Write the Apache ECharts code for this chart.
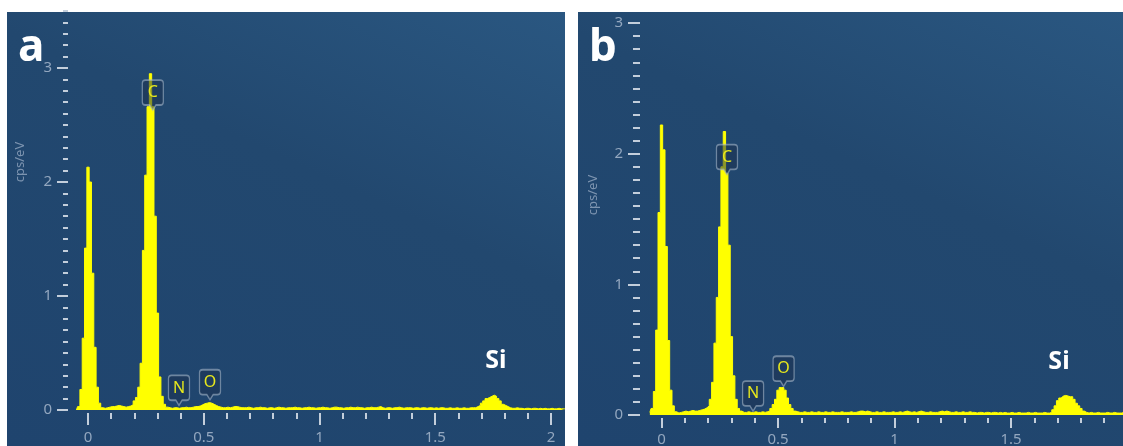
<!DOCTYPE html>
<html>
<head>
<meta charset="utf-8">
<script src="https://cdn.jsdelivr.net/npm/echarts@6/dist/echarts.min.js"></script>
<style>
html,body{margin:0;padding:0;background:#fff;}
#wrap{position:relative;width:1123px;height:446px;overflow:hidden;}
.panel{position:absolute;top:12px;bottom:0;background:linear-gradient(205deg,#2a5781 0%,#22486f 40%,#1f446e 100%);}
#pa{left:7px;width:558px;}
#pb{left:578px;width:545px;}
#chart{position:absolute;left:0;top:0;width:1123px;height:446px;}
</style>
</head>
<body>
<div id="wrap"><div class="panel" id="pa"></div><div class="panel" id="pb"></div><div id="chart"></div></div>
<script>
// EDS channel calibration (keV)
const channelStart = -0.05;
const channelWidth = 0.01;

// Panel a counts (cps/eV), channels from -0.05 keV to 2.06 keV
const countsA = [
  0, 0.03, 0.18, 0.63, 1.42, 2.13, 2.00, 1.20, 0.55, 0.20, 0.06, 0.02,
  0.015, 0.02, 0.025, 0.03, 0.03, 0.035, 0.04, 0.035, 0.03, 0.025, 0.03, 0.035, 0.045,
  0.08, 0.11, 0.20, 0.41, 1.40, 2.06, 2.66, 2.95, 2.66, 1.70, 0.85, 0.29, 0.12, 0.05, 0.025,
  0.02, 0.015, 0.02, 0.02, 0.015, 0.02, 0.02, 0.025, 0.02, 0.02, 0.025, 0.03,
  0.03, 0.035, 0.045, 0.055, 0.06, 0.065, 0.06, 0.05, 0.04, 0.03, 0.025,
  0.02, 0.02, 0.025, 0.02, 0.025, 0.03, 0.03, 0.025, 0.02, 0.02,
  0.02, 0.025, 0.02, 0.015, 0.02, 0.02, 0.025, 0.02, 0.02, 0.015,
  0.02, 0.02, 0.015, 0.02, 0.025, 0.02, 0.02, 0.015, 0.02, 0.02,
  0.02, 0.025, 0.02, 0.02, 0.015, 0.02, 0.02, 0.025, 0.02, 0.02,
  0.015, 0.02, 0.02, 0.025, 0.02, 0.02, 0.015, 0.02, 0.025, 0.025,
  0.02, 0.02, 0.015, 0.02, 0.02, 0.025, 0.02, 0.02, 0.025, 0.02,
  0.02, 0.015, 0.02, 0.02, 0.025, 0.02, 0.02, 0.025, 0.03, 0.02,
  0.015, 0.02, 0.02, 0.015, 0.02, 0.02, 0.025, 0.02, 0.015, 0.02,
  0.02, 0.02, 0.015, 0.02, 0.02, 0.015, 0.02, 0.02, 0.015, 0.02,
  0.02, 0.015, 0.02, 0.015, 0.02, 0.02, 0.015, 0.015, 0.02, 0.015,
  0.015, 0.02, 0.015, 0.015, 0.02, 0.015, 0.015, 0.02, 0.02,
  0.02, 0.03, 0.04, 0.06, 0.08, 0.10, 0.11, 0.12, 0.13, 0.12, 0.10, 0.08, 0.05, 0.04, 0.03, 0.02,
  0.015, 0.015, 0.02, 0.015, 0.015, 0.01, 0.015, 0.015, 0.01, 0.015, 0.015, 0.01,
  0.015, 0.01, 0.015, 0.01, 0.01, 0.015, 0.01, 0.01, 0.015, 0.01, 0.01, 0.01
];

// Panel b counts (cps/eV), channels from -0.05 keV to 1.99 keV
const countsB = [
  0.02, 0.05, 0.18, 0.65, 1.55, 2.22, 2.03, 1.29, 0.57, 0.19, 0.07, 0.025,
  0.015, 0.02, 0.025, 0.03, 0.025, 0.03, 0.035, 0.03, 0.03, 0.035, 0.04, 0.045, 0.055,
  0.07, 0.12, 0.25, 0.55, 0.90, 1.44, 1.90, 2.17, 1.85, 1.30, 0.60, 0.30, 0.12, 0.05, 0.03,
  0.02, 0.02, 0.025, 0.02, 0.02, 0.025, 0.02, 0.02, 0.025, 0.02, 0.025,
  0.03, 0.05, 0.08, 0.12, 0.19, 0.21, 0.21, 0.19, 0.13, 0.08, 0.05, 0.03,
  0.025, 0.02, 0.02, 0.025, 0.02, 0.02, 0.025, 0.02, 0.02, 0.025,
  0.02, 0.02, 0.025, 0.02, 0.02, 0.025, 0.02, 0.02, 0.02, 0.025,
  0.02, 0.02, 0.02, 0.025, 0.02, 0.02, 0.025, 0.03, 0.03, 0.025,
  0.03, 0.025, 0.02, 0.02, 0.025, 0.02, 0.02, 0.025, 0.02, 0.02,
  0.02, 0.025, 0.02, 0.02, 0.025, 0.02, 0.025, 0.03, 0.025, 0.02,
  0.025, 0.02, 0.025, 0.03, 0.025, 0.02, 0.02, 0.025, 0.02, 0.02,
  0.02, 0.025, 0.03, 0.025, 0.03, 0.025, 0.02, 0.02, 0.025, 0.02,
  0.02, 0.025, 0.02, 0.02, 0.025, 0.02, 0.02, 0.015, 0.02, 0.02,
  0.015, 0.02, 0.02, 0.015, 0.02, 0.02, 0.015, 0.02, 0.015, 0.02,
  0.015, 0.015, 0.02, 0.015, 0.015, 0.02, 0.015, 0.015, 0.015, 0.02,
  0.015, 0.015, 0.02, 0.015, 0.015, 0.015, 0.02, 0.015, 0.015,
  0.02, 0.04, 0.07, 0.11, 0.13, 0.145, 0.15, 0.145, 0.14, 0.14, 0.12, 0.09, 0.07, 0.05, 0.03, 0.02,
  0.015, 0.02, 0.015, 0.015, 0.02, 0.015, 0.015, 0.015, 0.02, 0.015, 0.015, 0.02,
  0.015, 0.015, 0.015, 0.02, 0.015
];

// Peak annotations
const peakNames = ['C', 'N', 'O'];
const peakLabelEnergyA = [0.28, 0.393, 0.527];
const peakLabelHeightA = [2.63, 0.04, 0.09];
const peakLabelEnergyB = [0.281, 0.393, 0.524];
const peakLabelHeightB = [1.84, 0.03, 0.22];
const siLabel = 'Si';
const siLabelA = [1.762, 0.43];
const siLabelB = [1.706, 0.41];

// Tick values
const xTicksMajor = [0, 0.5, 1, 1.5, 2];
const xTicksMinor = [0.1, 0.2, 0.3, 0.4, 0.6, 0.7, 0.8, 0.9, 1.1, 1.2, 1.3, 1.4, 1.6, 1.7, 1.8, 1.9];
const yTicksMajor = [0, 1, 2, 3];
const yTicksMinorA = [0.1, 0.2, 0.3, 0.4, 0.5, 0.6, 0.7, 0.8, 0.9, 1.1, 1.2, 1.3, 1.4, 1.5, 1.6, 1.7, 1.8, 1.9,
  2.1, 2.2, 2.3, 2.4, 2.5, 2.6, 2.7, 2.8, 2.9, 3.1, 3.2, 3.3, 3.4, 3.5];
const yTicksMinorB = [0.1, 0.2, 0.3, 0.4, 0.5, 0.6, 0.7, 0.8, 0.9, 1.1, 1.2, 1.3, 1.4, 1.5, 1.6, 1.7, 1.8, 1.9,
  2.1, 2.2, 2.3, 2.4, 2.5, 2.6, 2.7, 2.8, 2.9];
const panelNames = ['a', 'b'];
const yAxisName = 'cps/eV';

// ---------- build ----------
const toSeries = counts => counts.map((c, i) => [Number((channelStart + i * channelWidth).toFixed(2)), c]);

const tickColor = '#c3cedb';
const labelColor = '#93a7bf';
const boxPath = 'path://M3,0 H17 Q20,0 20,3 V21 Q20,24 17,24 H13 L10,29 L7,24 H3 Q0,24 0,21 V3 Q0,0 3,0 Z';

function peakMarks(energies, heights, si) {
  const d = peakNames.map((n, i) => ({
    name: n, coord: [energies[i], heights[i]],
    symbol: boxPath, symbolSize: [21, 30], symbolOffset: [0, '-50%'],
    itemStyle: {color: 'rgba(28,48,78,0.5)', borderColor: 'rgba(165,182,200,0.6)', borderWidth: 1.5},
    label: {show: true, formatter: '{b}', position: 'inside', offset: [0, -2.5], color: '#e8e81c', fontSize: 16, fontFamily: 'Noto Sans'}
  }));
  d.push({
    name: siLabel, coord: si, symbol: 'rect', symbolSize: 1, symbolOffset: [0, 0],
    itemStyle: {color: 'transparent', borderWidth: 0},
    label: {show: true, formatter: '{b}', position: 'inside', offset: [0, 0], color: '#ffffff', fontSize: 25, fontWeight: 'bold', fontFamily: 'Noto Sans'}
  });
  return {symbolKeepAspect: false, silent: true, data: d, animation: false};
}

function xAxes(grid, min, max, offset, margin, majLen, minLen, minorVals) {
  const base = {gridIndex: grid, type: 'value', min: min, max: max, position: 'bottom', offset: offset,
    axisLine: {show: false, onZero: false}, splitLine: {show: false}};
  return [
    Object.assign({}, base, {
      axisTick: {show: true, customValues: xTicksMajor, length: majLen, lineStyle: {color: tickColor, width: 2}},
      axisLabel: {show: true, customValues: xTicksMajor, margin: margin, color: labelColor, fontSize: 15, fontFamily: 'Noto Sans'}
    }),
    Object.assign({}, base, {
      axisTick: {show: true, customValues: minorVals, length: minLen, lineStyle: {color: tickColor, width: 2}},
      axisLabel: {show: false}
    })
  ];
}
function yAxes(grid, max, majLen, minLen, margin, minorVals) {
  const base = {gridIndex: grid, type: 'value', min: 0, max: max, position: 'left',
    axisLine: {show: false, onZero: false}, splitLine: {show: false}};
  return [
    Object.assign({}, base, {
      axisTick: {show: true, customValues: yTicksMajor, length: majLen, lineStyle: {color: tickColor, width: 2}},
      axisLabel: {show: true, customValues: yTicksMajor, margin: margin, color: labelColor, fontSize: 15, fontFamily: 'Noto Sans'}
    }),
    Object.assign({}, base, {
      axisTick: {show: true, customValues: minorVals, length: minLen, lineStyle: {color: tickColor, width: 2}},
      axisLabel: {show: false}
    })
  ];
}

const chart = echarts.init(document.getElementById('chart'), null, {renderer: 'canvas'});
chart.setOption({
  animation: false,
  backgroundColor: 'transparent',
  grid: [
    {left: 68, right: 558, top: 11, bottom: 36, containLabel: false, outerBoundsMode: 'none'},
    {left: 640, right: 0, top: 12, bottom: 31, containLabel: false, outerBoundsMode: 'none'}
  ],
  xAxis: [].concat(
    xAxes(0, -0.0864, 2.0605, 3, 17, 12, 6, xTicksMinor),
    xAxes(1, -0.0923, 1.9807, 3, 14, 10, 5, xTicksMinor)
  ),
  yAxis: [].concat(
    yAxes(0, 3.5, 11, 5, 16, yTicksMinorA),
    yAxes(1, 3.085, 12, 7, 17, yTicksMinorB)
  ),
  series: [
    {type: 'line', xAxisIndex: 0, yAxisIndex: 0, data: toSeries(countsA), step: 'middle', symbol: 'none',
      lineStyle: {color: '#ffff00', width: 1}, areaStyle: {color: '#ffff00', opacity: 1}, itemStyle: {color: '#ffff00'},
      markPoint: peakMarks(peakLabelEnergyA, peakLabelHeightA, siLabelA)},
    {type: 'line', xAxisIndex: 2, yAxisIndex: 2, data: toSeries(countsB), step: 'middle', symbol: 'none',
      lineStyle: {color: '#ffff00', width: 1}, areaStyle: {color: '#ffff00', opacity: 1}, itemStyle: {color: '#ffff00'},
      markPoint: peakMarks(peakLabelEnergyB, peakLabelHeightB, siLabelB)}
  ],
  graphic: [
    {type: 'text', x: 18, y: 48, style: {text: panelNames[0], fill: '#ffffff', font: 'bold 44px "Noto Sans"', textVerticalAlign: 'middle', verticalAlign: 'middle'}},
    {type: 'text', x: 589, y: 48, style: {text: panelNames[1], fill: '#ffffff', font: 'bold 44px "Noto Sans"', textVerticalAlign: 'middle', verticalAlign: 'middle'}},
    {type: 'text', x: 20, y: 162, rotation: Math.PI / 2, style: {text: yAxisName, fill: '#7d94b0', font: '13px "Noto Sans"', textAlign: 'center', align: 'center', textVerticalAlign: 'middle', verticalAlign: 'middle'}},
    {type: 'text', x: 593, y: 195, rotation: Math.PI / 2, style: {text: yAxisName, fill: '#7d94b0', font: '13px "Noto Sans"', textAlign: 'center', align: 'center', textVerticalAlign: 'middle', verticalAlign: 'middle'}}
  ]
});
</script>
</body>
</html>
